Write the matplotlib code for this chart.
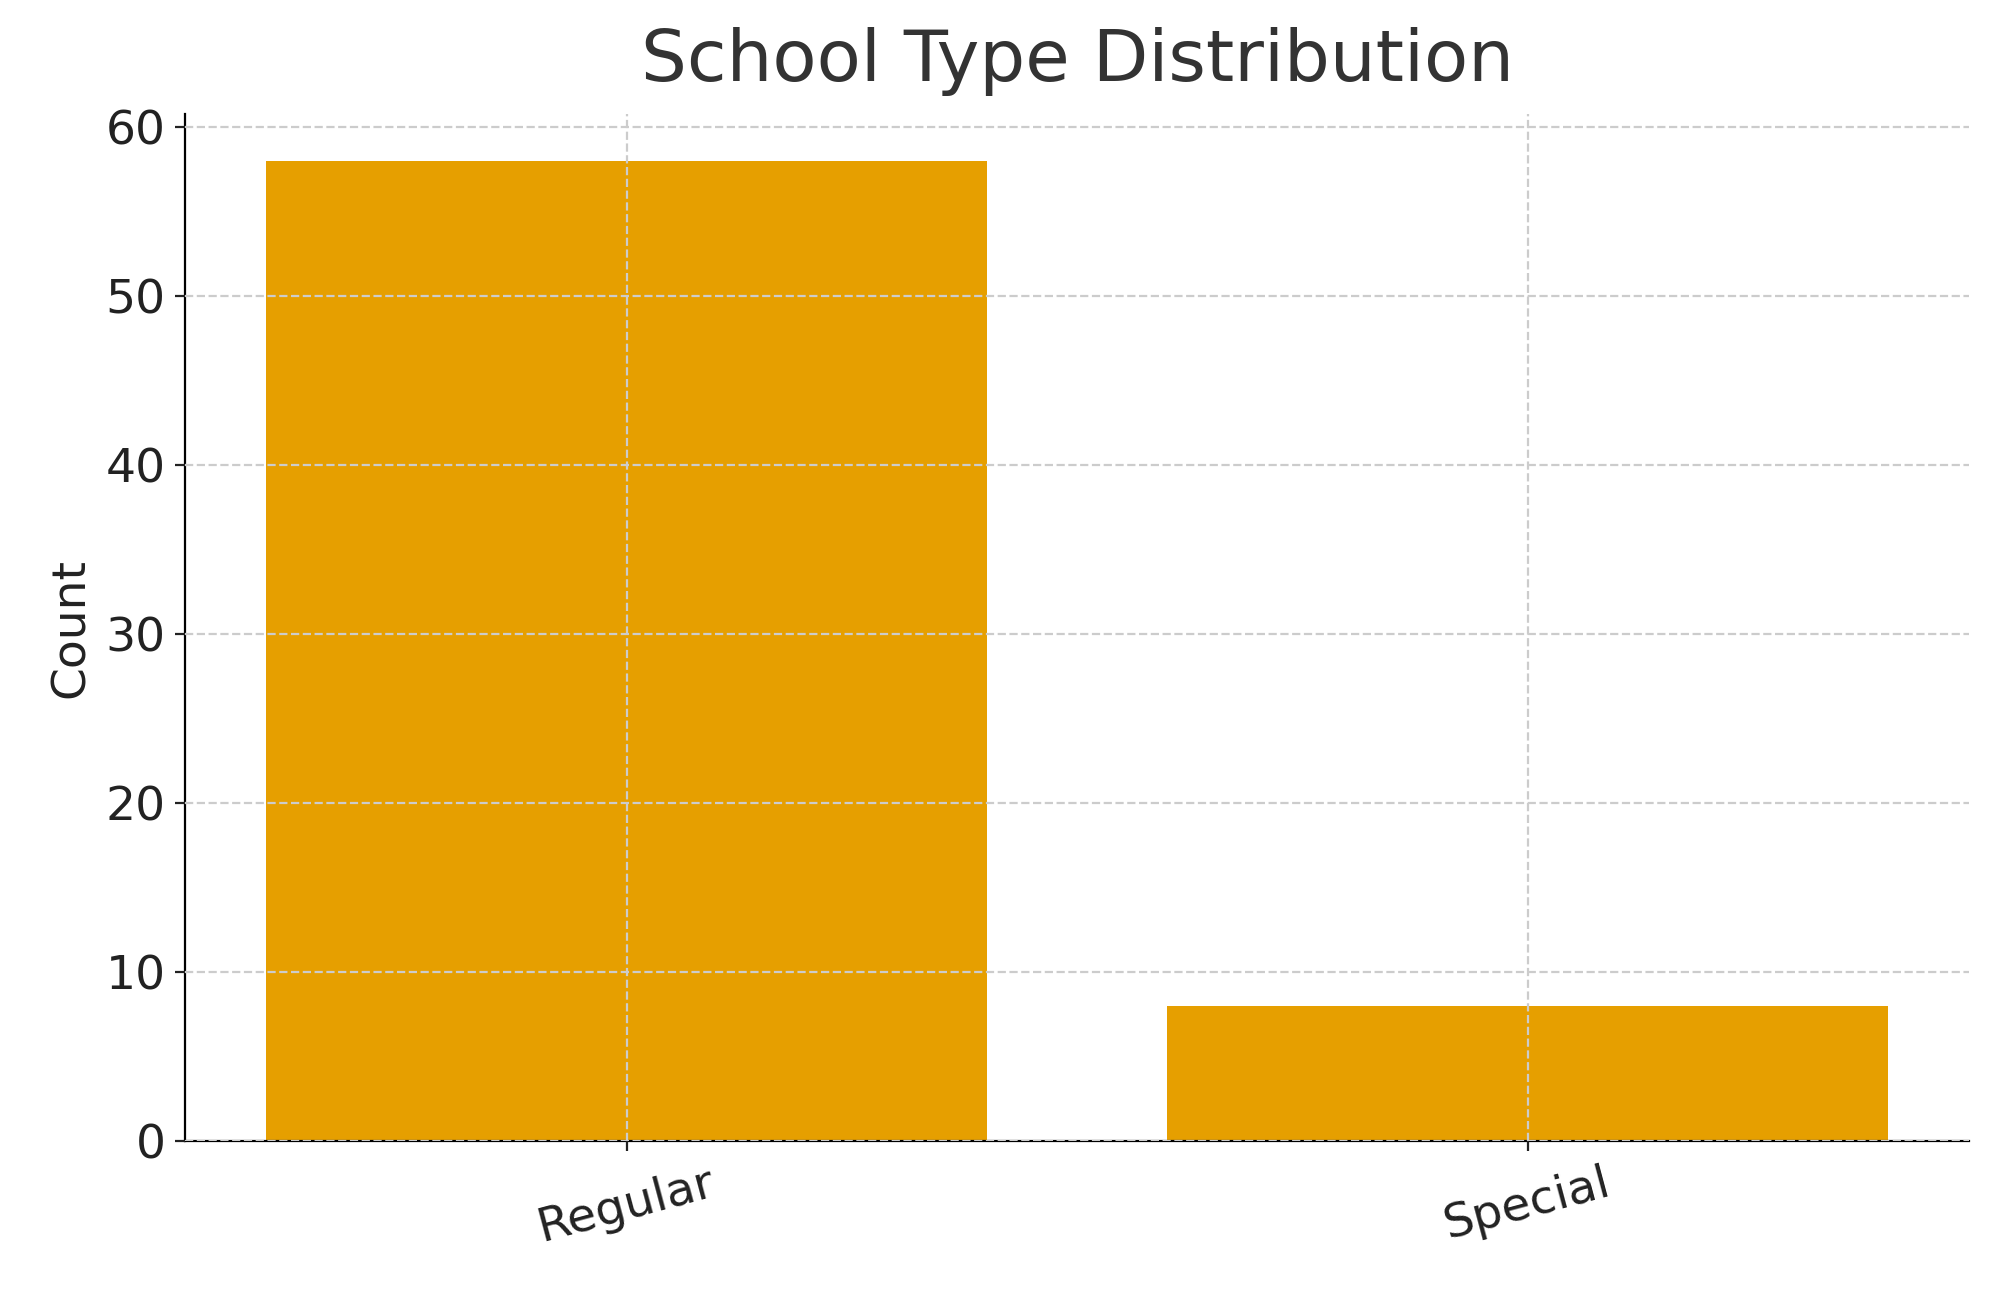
import matplotlib
matplotlib.use("Agg")
import matplotlib.pyplot as plt

categories = ["Regular", "Special"]
counts = [58, 8]

fig = plt.figure(figsize=(9.945, 6.49), dpi=200)
ax = fig.add_axes([0.093, 0.121, 0.897, 0.791])
ax.bar(categories, counts, width=0.8, color="#E69F00")
ax.set_xlim(-0.49, 1.49)
ax.set_ylim(0, 60.75)
ax.set_yticks([0, 10, 20, 30, 40, 50, 60])
ax.grid(True, linestyle="--", color="#cccccc", linewidth=0.8)
ax.set_axisbelow(False)
for s in ["top", "right"]:
    ax.spines[s].set_visible(False)
ax.tick_params(labelsize=17, colors="#222222")
plt.setp(ax.get_xticklabels(), rotation=15)
ax.set_ylabel("Count", fontsize=17, color="#222222")
ax.set_title("School Type Distribution", fontsize=26, color="#333333", pad=12)
fig.savefig("out.png", dpi=200)
